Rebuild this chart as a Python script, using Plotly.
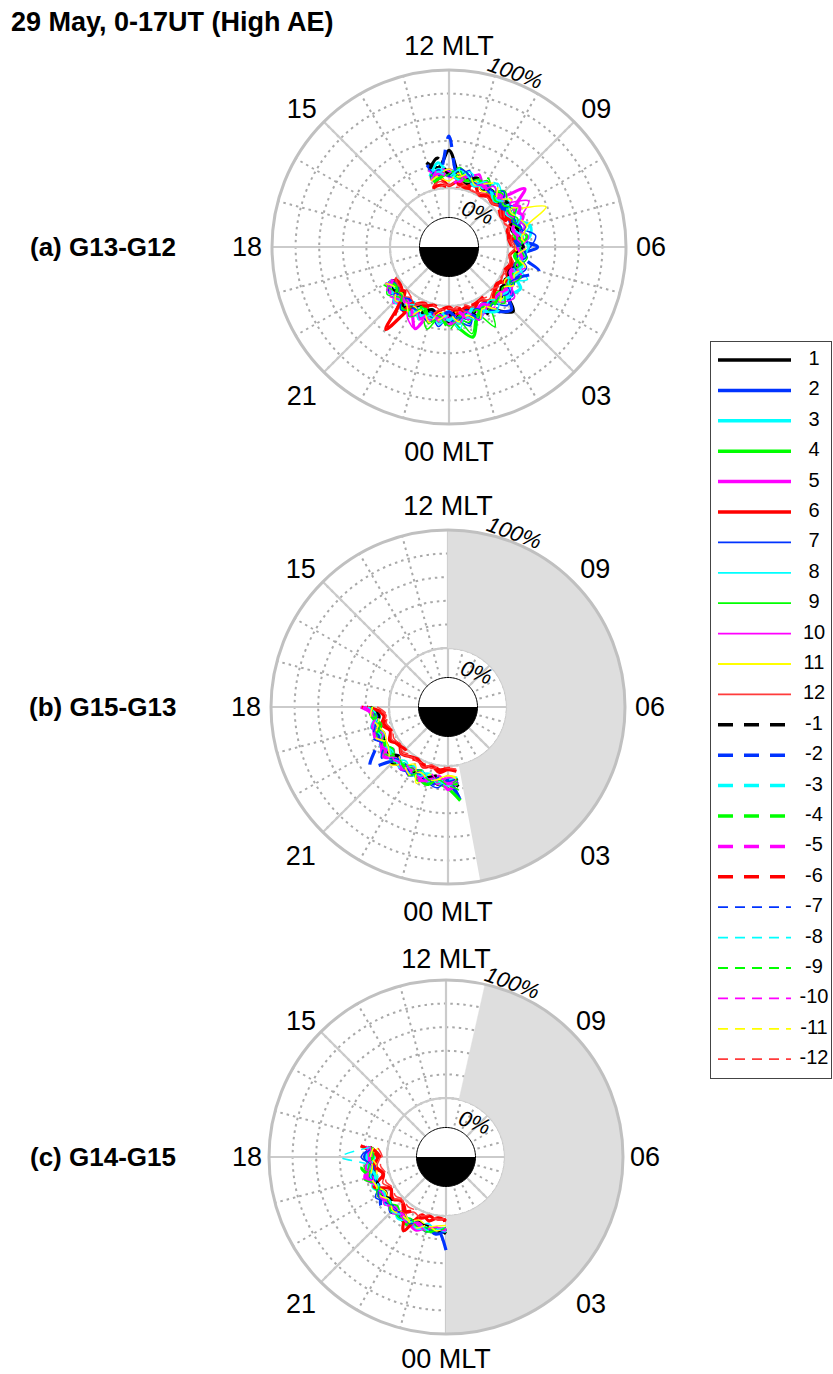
import plotly.graph_objects as go

# ---------------------------------------------------------------------------
# Series: harmonic index 1..12 (solid) and -1..-12 (dashed)
# ---------------------------------------------------------------------------
SERIES = ["1", "2", "3", "4", "5", "6", "7", "8", "9", "10", "11", "12",
          "-1", "-2", "-3", "-4", "-5", "-6", "-7", "-8", "-9", "-10", "-11", "-12"]
BASE_COLORS = ["#000000", "#0033ff", "#00ffff", "#00ff00", "#ff00ff", "#ff0000",
               "#0033ff", "#00ffff", "#00ff00", "#ff00ff", "#ffff00", "#ff3b3b"]

PANEL_LABELS = ["(a) G13-G12", "(b) G15-G13", "(c) G14-G15"]
TITLE = "29 May, 0-17UT (High AE)"

# magnetic local time sample positions (hours) for each satellite pair
MLT_A = [20.0, 20.5, 21.0, 21.5, 22.0, 22.5, 23.0, 23.5, 0.0, 0.5, 1.0, 1.5,
         2.0, 2.5, 3.0, 3.5, 4.0, 4.5, 5.0, 5.5, 6.0, 6.5, 7.0, 7.5, 8.0, 8.5,
         9.0, 9.5, 10.0, 10.5, 11.0, 11.5, 12.0, 12.5, 13.0]
MLT_B = [18.0, 18.5, 19.0, 19.5, 20.0, 20.5, 21.0, 21.5, 22.0, 22.5, 23.0,
         23.5, 0.0, 0.5]
MLT_C = [17.5, 18.0, 18.5, 19.0, 19.5, 20.0, 20.5, 21.0, 21.5, 22.0, 22.5,
         23.0, 23.5, 0.0]

# relative amplitude (%) per series, panel (a)
R_A = {
    "1":   [6, 10, 5, 13, 8, 4, 12, 7, 15, 8, 5, 13, 9, 18, 27, 9, 5, 12, 8, 14, 6, 10, 5, 8, 4, 9, 5, 10, 6, 9, 5, 12, 32, 18, 24],
    "2":   [5, 8, 13, 6, 9, 14, 5, 10, 8, 12, 6, 16, 9, 19, 25, 10, 13, 8, 12, 9, 25, 8, 12, 6, 10, 5, 13, 8, 9, 6, 12, 8, 14, 10, 22],
    "3":   [9, 5, 12, 8, 15, 6, 13, 9, 5, 14, 10, 6, 12, 8, 13, 16, 20, 9, 14, 12, 8, 19, 21, 10, 6, 13, 9, 5, 12, 8, 10, 16, 13, 22, 12],
    "4":   [8, 13, 6, 16, 9, 12, 5, 14, 10, 20, 29, 13, 8, 10, 6, 12, 9, 14, 8, 13, 10, 6, 12, 9, 14, 8, 12, 6, 10, 13, 8, 9, 12, 15, 9],
    "5":   [12, 6, 14, 9, 13, 25, 8, 10, 16, 6, 12, 9, 14, 8, 10, 13, 6, 15, 9, 12, 8, 13, 10, 18, 14, 31, 9, 8, 13, 6, 12, 9, 10, 14, 8],
    "6":   [5, 12, 3, 38, 6, 2, 10, 4, 1, 7, 3, 6, 2, 9, 4, 1, 7, 3, 6, 2, 9, 4, 1, 7, 3, 6, 2, 4, 1, 7, 3, 6, 2, 9, 1],
    "7":   [6, 14, 8, 17, 7, 15, 10, 18, 8, 13, 19, 7, 15, 11, 20, 16, 8, 13, 18, 10, 19, 24, 12, 8, 16, 10, 7, 14, 12, 8, 17, 10, 16, 12, 18],
    "8":   [11, 7, 14, 8, 17, 12, 7, 16, 10, 20, 8, 14, 7, 17, 12, 18, 10, 22, 8, 14, 17, 12, 21, 10, 16, 8, 13, 18, 7, 12, 16, 8, 12, 17, 13],
    "9":   [8, 16, 10, 7, 18, 12, 22, 10, 17, 13, 26, 12, 28, 8, 16, 10, 13, 7, 12, 17, 8, 16, 10, 13, 7, 12, 17, 10, 15, 8, 13, 18, 10, 15, 12],
    "10":  [12, 7, 17, 10, 20, 25, 8, 14, 10, 16, 7, 17, 12, 8, 16, 20, 10, 17, 8, 14, 12, 18, 10, 16, 28, 12, 8, 14, 10, 17, 7, 12, 16, 10, 17],
    "11":  [5, 10, 6, 12, 8, 13, 16, 6, 9, 5, 12, 8, 10, 6, 13, 9, 5, 12, 8, 10, 6, 13, 18, 39, 16, 8, 12, 9, 5, 10, 8, 13, 6, 9, 12],
    "12":  [6, 3, 9, 4, 7, 2, 9, 3, 6, 1, 7, 4, 2, 6, 3, 9, 1, 4, 7, 2, 6, 3, 9, 1, 4, 7, 2, 6, 3, 1, 4, 7, 2, 6, 3],
    "-1":  [5, 9, 6, 13, 8, 10, 5, 12, 8, 6, 13, 9, 15, 8, 12, 6, 10, 5, 9, 6, 13, 8, 10, 5, 9, 12, 6, 10, 8, 13, 9, 14, 12, 26, 16],
    "-2":  [8, 5, 12, 6, 9, 13, 8, 10, 5, 12, 8, 14, 6, 10, 9, 13, 8, 16, 29, 12, 9, 6, 13, 8, 10, 5, 12, 8, 9, 6, 13, 10, 44, 13, 12],
    "-3":  [6, 12, 8, 10, 5, 13, 9, 6, 12, 8, 10, 5, 13, 18, 9, 12, 6, 10, 8, 14, 9, 13, 6, 10, 8, 12, 5, 9, 13, 6, 10, 8, 18, 14, 9],
    "-4":  [9, 6, 13, 8, 12, 5, 14, 9, 18, 10, 8, 13, 6, 12, 9, 5, 10, 8, 13, 6, 12, 9, 5, 10, 8, 13, 6, 12, 9, 14, 8, 10, 13, 9, 6],
    "-5":  [5, 13, 8, 10, 6, 16, 9, 12, 8, 5, 13, 9, 6, 12, 8, 10, 14, 6, 9, 13, 8, 10, 6, 12, 19, 9, 13, 6, 10, 8, 12, 5, 9, 13, 8],
    "-6":  [3, 2, 6, 25, 2, 4, 1, 3, 2, 4, 1, 3, 2, 1, 4, 2, 3, 1, 4, 2, 3, 1, 2, 4, 1, 3, 2, 4, 1, 3, 2, 4, 1, 3, 2],
    "-7":  [8, 14, 7, 17, 10, 12, 16, 8, 14, 10, 17, 7, 12, 16, 8, 18, 10, 14, 7, 16, 12, 8, 17, 10, 14, 7, 16, 10, 12, 8, 14, 17, 10, 16, 12],
    "-8":  [10, 8, 16, 12, 7, 17, 10, 14, 8, 16, 12, 18, 10, 7, 14, 17, 8, 12, 16, 10, 18, 14, 8, 16, 10, 12, 7, 17, 14, 8, 12, 16, 10, 14, 17],
    "-9":  [14, 10, 7, 16, 12, 8, 17, 10, 20, 12, 16, 8, 14, 10, 17, 7, 12, 16, 8, 14, 10, 17, 12, 7, 16, 8, 14, 10, 17, 12, 7, 16, 12, 8, 14],
    "-10": [8, 16, 12, 7, 17, 10, 14, 8, 16, 12, 7, 17, 10, 14, 8, 16, 12, 7, 17, 10, 14, 8, 16, 12, 7, 17, 10, 14, 8, 16, 12, 10, 14, 17, 8],
    "-11": [12, 7, 14, 10, 17, 8, 16, 12, 7, 14, 10, 17, 8, 16, 12, 7, 14, 10, 17, 8, 16, 12, 18, 14, 10, 16, 8, 17, 12, 7, 14, 10, 16, 12, 8],
    "-12": [2, 4, 1, 3, 5, 2, 1, 4, 2, 3, 1, 5, 2, 3, 1, 4, 2, 1, 3, 2, 4, 1, 3, 2, 1, 4, 2, 3, 1, 2, 4, 1, 3, 2, 1],
}

# panel (b)
R_B = {
    "1":   [19, 11, 16, 9, 15, 11, 17, 12, 9, 14, 11, 16, 12, 18],
    "2":   [16, 14, 10, 17, 12, 15, 9, 16, 13, 10, 17, 12, 14, 29],
    "3":   [21, 12, 17, 10, 16, 9, 14, 11, 16, 12, 9, 15, 11, 16],
    "4":   [17, 15, 9, 16, 12, 18, 11, 14, 9, 17, 12, 15, 19, 30],
    "5":   [24, 12, 16, 11, 15, 19, 12, 16, 10, 14, 17, 9, 20, 14],
    "6":   [23, 5, 8, 3, 7, 2, 6, 3, 1, 5, 2, 6, 3, 5],
    "7":   [14, 10, 13, 8, 16, 12, 10, 15, 12, 8, 16, 19, 12, 27],
    "8":   [17, 8, 14, 12, 10, 16, 13, 8, 14, 12, 10, 16, 13, 11],
    "9":   [15, 13, 8, 15, 10, 12, 16, 10, 13, 8, 14, 12, 16, 21],
    "10":  [20, 10, 17, 12, 16, 8, 14, 12, 17, 10, 13, 16, 8, 15],
    "11":  [13, 9, 11, 8, 10, 12, 9, 13, 6, 20, 9, 11, 8, 10],
    "12":  [16, 3, 7, 2, 5, 1, 6, 3, 2, 5, 1, 3, 2, 3],
    "-1":  [16, 9, 14, 12, 11, 15, 9, 14, 11, 16, 12, 9, 14, 11],
    "-2":  [19, 11, 16, 13, 21, 33, 15, 12, 16, 11, 14, 17, 12, 14],
    "-3":  [20, 12, 16, 11, 15, 12, 17, 11, 14, 9, 15, 12, 16, 12],
    "-4":  [15, 12, 17, 11, 14, 9, 16, 12, 11, 15, 18, 11, 14, 16],
    "-5":  [22, 13, 15, 17, 12, 16, 11, 15, 12, 17, 14, 11, 15, 12],
    "-6":  [19, 3, 6, 2, 4, 3, 1, 4, 2, 3, 1, 4, 2, 3],
    "-7":  [16, 12, 14, 19, 13, 21, 12, 10, 14, 12, 16, 10, 13, 11],
    "-8":  [18, 10, 16, 12, 14, 10, 13, 16, 8, 13, 10, 14, 12, 10],
    "-9":  [15, 13, 10, 14, 12, 16, 10, 13, 17, 10, 14, 12, 16, 12],
    "-10": [20, 12, 16, 10, 17, 12, 14, 10, 13, 16, 8, 14, 10, 11],
    "-11": [14, 16, 12, 17, 10, 13, 19, 12, 16, 10, 14, 12, 8, 12],
    "-12": [10, 2, 4, 1, 3, 2, 4, 1, 3, 2, 4, 1, 2, 3],
}

# panel (c)
R_C = {
    "1":   [15, 12, 17, 11, 16, 9, 14, 11, 15, 12, 9, 14, 11, 15],
    "2":   [13, 19, 11, 16, 12, 15, 11, 16, 9, 14, 12, 15, 11, 29],
    "3":   [16, 11, 15, 12, 17, 11, 14, 12, 15, 11, 16, 9, 14, 12],
    "4":   [17, 13, 19, 12, 16, 11, 15, 9, 14, 16, 11, 15, 12, 13],
    "5":   [19, 14, 17, 21, 13, 16, 12, 15, 11, 14, 17, 12, 15, 11],
    "6":   [23, 8, 12, 5, 16, 4, 8, 3, 7, 22, 3, 6, 2, 4],
    "7":   [13, 22, 12, 15, 11, 19, 12, 15, 10, 14, 12, 13, 15, 11],
    "8":   [15, 12, 17, 10, 14, 12, 15, 10, 13, 12, 14, 10, 13, 11],
    "9":   [12, 15, 13, 18, 12, 14, 10, 13, 15, 10, 13, 12, 14, 10],
    "10":  [17, 13, 15, 20, 14, 12, 16, 10, 14, 12, 15, 10, 13, 11],
    "11":  [8, 13, 9, 11, 14, 9, 11, 13, 9, 12, 8, 11, 9, 8],
    "12":  [13, 6, 9, 4, 8, 3, 7, 2, 10, 4, 6, 2, 4, 3],
    "-1":  [13, 16, 11, 14, 12, 15, 9, 14, 11, 15, 12, 11, 14, 11],
    "-2":  [15, 18, 12, 16, 11, 14, 19, 12, 15, 11, 14, 12, 16, 12],
    "-3":  [14, 17, 15, 12, 16, 11, 14, 12, 16, 11, 15, 12, 11, 13],
    "-4":  [16, 12, 22, 15, 13, 16, 11, 15, 12, 14, 11, 16, 12, 11],
    "-5":  [17, 15, 16, 19, 12, 15, 13, 16, 11, 15, 12, 14, 11, 12],
    "-6":  [15, 6, 10, 5, 9, 4, 7, 3, 8, 3, 6, 2, 5, 3],
    "-7":  [12, 20, 13, 15, 12, 16, 14, 10, 13, 15, 10, 13, 12, 10],
    "-8":  [14, 39, 13, 16, 12, 14, 10, 15, 12, 13, 10, 14, 12, 10],
    "-9":  [13, 15, 16, 22, 12, 14, 12, 13, 15, 10, 14, 12, 13, 10],
    "-10": [15, 13, 19, 14, 16, 12, 14, 12, 13, 15, 10, 13, 10, 11],
    "-11": [12, 14, 13, 16, 14, 15, 10, 14, 12, 13, 15, 10, 13, 10],
    "-12": [8, 4, 6, 3, 5, 2, 4, 1, 3, 2, 4, 1, 3, 2],
}

# MLT span without coverage for each pair (start, end), shaded grey
NO_COVER = [None, (0.7, 12.0), (0.0, 11.15)]

PANELS = [(MLT_A, R_A), (MLT_B, R_B), (MLT_C, R_C)]
for mlt, rr in PANELS:
    for name in SERIES:
        assert len(rr[name]) == len(mlt), (name, len(rr[name]), len(mlt))

# ---------------------------------------------------------------------------
# Styling
# ---------------------------------------------------------------------------
W, H = 833, 1374
FONT = "Liberation Sans, Arial, Helvetica, sans-serif"
R_MIN, R_MAX = -50, 100          # radial range, 0 % ring sits away from centre
DISC_R = -25                     # day/night indicator radius
RING_TICKS = [0, 20, 40, 60, 80, 100]
# blank lines shift the rotated labels: "0%" just inside its ring, "100%" outside the rim
RING_TEXT = ["<br>0%", "", "", "", "", "100%<br> "]
RING_LABEL_ANGLE = 82
HOUR_LABELS = {0: "00 MLT", 3: "03", 6: "06", 9: "09", 12: "12 MLT", 15: "15", 18: "18", 21: "21"}
GRID_DOT = "#a9a9a9"
GRID_SOLID = "#cbcbcb"
RIM = "#c0c0c0"
SHADE = "#dedede"

# panel geometry in pixels: centre x, centre y, outer radius; hour-label offset
CENTRES = [(449, 247), (448, 707), (446, 1157)]
LABEL_GAP = [3, 3, 0]
RADIUS = 177


def colour(i):
    return BASE_COLORS[i % 12]


def width(i):
    return 3.2 if (i % 12) < 6 else 1.5


def dash(i):
    if i < 12:
        return "solid"
    return "15px,11px" if (i % 12) < 6 else "10px,7px"


def deg(h):
    return h * 15.0


fig = go.Figure()

ang_vals = [k * 15 for k in range(24)]
ang_text = [HOUR_LABELS.get(k, "") for k in range(24)]

for p, ((mlt, rr), (cx, cy)) in enumerate(zip(PANELS, CENTRES)):
    sub = "polar" if p == 0 else f"polar{p + 1}"

    # solid spokes every 3 h
    sr, st = [], []
    for k in range(0, 24, 3):
        sr += [R_MIN, R_MAX, None]
        st += [deg(k), deg(k), None]
    fig.add_trace(go.Scatterpolar(r=sr, theta=st, mode="lines", subplot=sub,
                                  line=dict(color=GRID_SOLID, width=2.2),
                                  hoverinfo="skip", showlegend=False))
    # solid 0 % ring
    ring_t = [k * 2.0 for k in range(181)]
    fig.add_trace(go.Scatterpolar(r=[0] * len(ring_t), theta=ring_t, mode="lines",
                                  subplot=sub, line=dict(color=GRID_SOLID, width=2.2),
                                  hoverinfo="skip", showlegend=False))

    # no-coverage sector
    if NO_COVER[p] is not None:
        h0, h1 = NO_COVER[p]
        n = 60
        arc = [deg(h0 + (h1 - h0) * j / n) for j in range(n + 1)]
        fig.add_trace(go.Scatterpolar(
            r=[0] * len(arc) + [R_MAX] * len(arc), theta=arc + arc[::-1],
            mode="lines", fill="toself", fillcolor=SHADE, subplot=sub,
            line=dict(color=SHADE, width=0.5), hoverinfo="skip", showlegend=False))

    # data curves
    theta = [deg(h) for h in mlt]
    for i, name in enumerate(SERIES):
        fig.add_trace(go.Scatterpolar(
            r=rr[name], theta=theta, mode="lines", subplot=sub, name=name,
            line=dict(color=colour(i), width=width(i), dash=dash(i),
                      shape="spline", smoothing=1.0),
            showlegend=False))

    # day (white) / night (black) disc
    day = [deg(6 + 12 * j / 60) for j in range(61)]
    night = [deg(18 + 12 * j / 60) for j in range(61)]
    fig.add_trace(go.Scatterpolar(r=[DISC_R] * len(day), theta=day, mode="lines",
                                  fill="toself", fillcolor="white", subplot=sub,
                                  line=dict(color="black", width=1),
                                  hoverinfo="skip", showlegend=False))
    fig.add_trace(go.Scatterpolar(r=[DISC_R] * len(night), theta=night, mode="lines",
                                  fill="toself", fillcolor="black", subplot=sub,
                                  line=dict(color="black", width=1),
                                  hoverinfo="skip", showlegend=False))

    polar = dict(
        domain=dict(x=[(cx - RADIUS) / W, (cx + RADIUS) / W],
                    y=[1 - (cy + RADIUS) / H, 1 - (cy - RADIUS) / H]),
        bgcolor="white",
        angularaxis=dict(
            rotation=270, direction="counterclockwise",
            tickmode="array", tickvals=ang_vals, ticktext=ang_text,
            showgrid=True, gridcolor=GRID_DOT, gridwidth=2.3, griddash="2.5px,4px",
            showline=True, linecolor=RIM, linewidth=3,
            ticks="outside", ticklen=LABEL_GAP[p], tickcolor="rgba(0,0,0,0)",
            tickfont=dict(family=FONT, size=27, color="black"),
        ),
        radialaxis=dict(
            range=[R_MIN, R_MAX], tickmode="array", tickvals=RING_TICKS,
            ticktext=RING_TEXT, showline=False, ticks="",
            showgrid=True, gridcolor=GRID_DOT, gridwidth=2.3, griddash="2.5px,4px",
            angle=RING_LABEL_ANGLE, tickangle=RING_LABEL_ANGLE + 20,
            tickfont=dict(family=FONT, size=22, color="black", style="italic"),
        ),
    )
    fig.update_layout(**{sub: polar})

    fig.add_annotation(text=f"<b>{PANEL_LABELS[p]}</b>", x=178 / W, y=1 - cy / H,
                       xref="paper", yref="paper", xanchor="right", yanchor="middle",
                       showarrow=False, font=dict(family=FONT, size=26, color="black"))

fig.add_annotation(text=f"<b>{TITLE}</b>", x=9 / W, y=1 - 22 / H, xref="paper",
                   yref="paper", xanchor="left", yanchor="middle", showarrow=False,
                   font=dict(family=FONT, size=27, color="black"))

# ---------------------------------------------------------------------------
# Key: one row per series in a framed box on the right
# ---------------------------------------------------------------------------
KEY_TOP, KEY_BOTTOM, KEY_LEFT, KEY_RIGHT = 342, 1078, 711, 831
ROW = 30.4
for i, name in enumerate(SERIES):
    yy = 18 + i * ROW
    fig.add_trace(go.Scatter(x=[7, 80], y=[yy, yy], mode="lines", xaxis="x", yaxis="y",
                             line=dict(color=colour(i), width=width(i) + 0.3, dash=dash(i)),
                             hoverinfo="skip", showlegend=False))
fig.add_trace(go.Scatter(x=[103] * len(SERIES), y=[18 + i * ROW for i in range(len(SERIES))],
                         text=SERIES, mode="text", xaxis="x", yaxis="y",
                         textfont=dict(family=FONT, size=20, color="black"),
                         hoverinfo="skip", showlegend=False))

fig.update_layout(
    xaxis=dict(domain=[KEY_LEFT / W, KEY_RIGHT / W], range=[0, KEY_RIGHT - KEY_LEFT],
               showgrid=False, zeroline=False, showticklabels=False, ticks="",
               showline=True, mirror=True, linecolor="#444444", linewidth=1, fixedrange=True),
    yaxis=dict(domain=[1 - KEY_BOTTOM / H, 1 - KEY_TOP / H], range=[KEY_BOTTOM - KEY_TOP, 0],
               showgrid=False, zeroline=False, showticklabels=False, ticks="",
               showline=True, mirror=True, linecolor="#444444", linewidth=1, fixedrange=True),
    width=W, height=H, margin=dict(l=0, r=0, t=0, b=0),
    paper_bgcolor="white", plot_bgcolor="white", showlegend=False,
)

fig.write_html("out.html")
